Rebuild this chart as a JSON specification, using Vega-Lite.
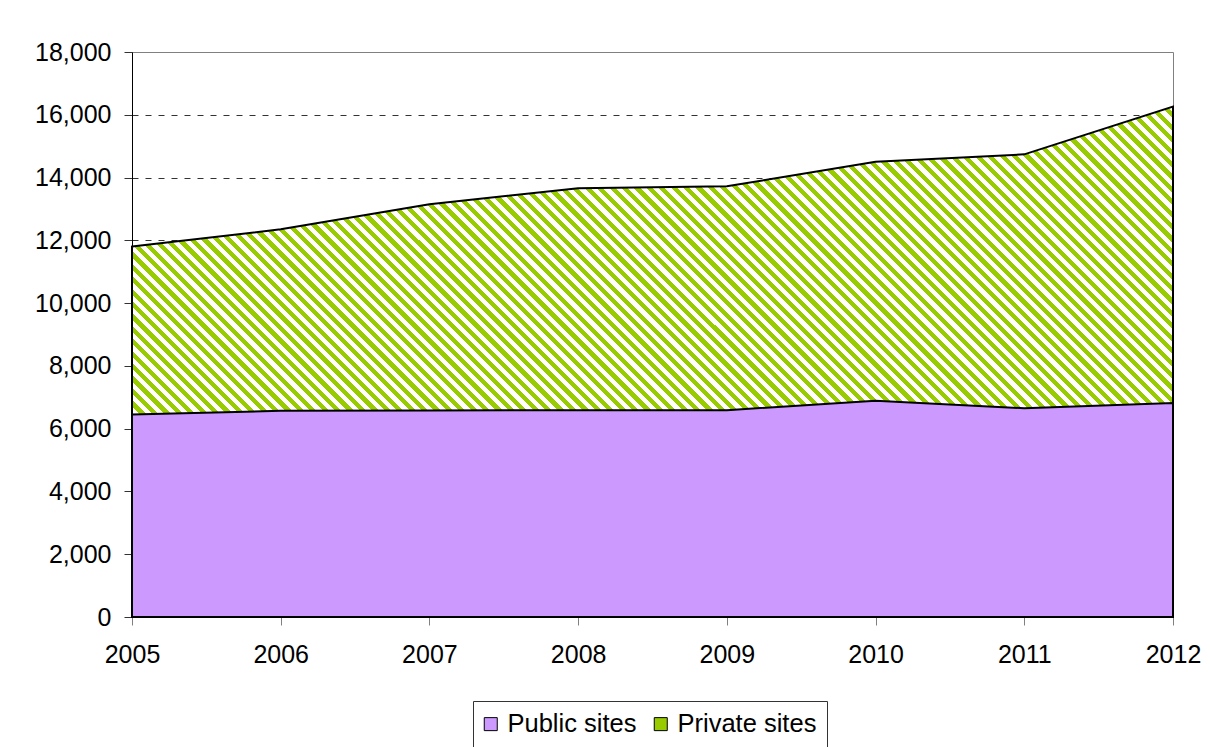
{"width":1041,"height":565,"autosize":{"type":"none"},"padding":{"left":132,"top":52,"right":37,"bottom":130},"background":"white",
"config":{"view":{"stroke":"#808080","strokeWidth":1},"font":"Liberation Sans","axis":{"labelFont":"Liberation Sans","labelColor":"#000","domainColor":"#000","domainWidth":1,"title":null}},
"data":{"values":[
{"year":2005,"series":"Public sites","value":6450},{"year":2005,"series":"Private sites","value":5350},
{"year":2006,"series":"Public sites","value":6570},{"year":2006,"series":"Private sites","value":5780},
{"year":2007,"series":"Public sites","value":6580},{"year":2007,"series":"Private sites","value":6570},
{"year":2008,"series":"Public sites","value":6590},{"year":2008,"series":"Private sites","value":7070},
{"year":2009,"series":"Public sites","value":6590},{"year":2009,"series":"Private sites","value":7130},
{"year":2010,"series":"Public sites","value":6890},{"year":2010,"series":"Private sites","value":7610},
{"year":2011,"series":"Public sites","value":6650},{"year":2011,"series":"Private sites","value":8090},
{"year":2012,"series":"Public sites","value":6820},{"year":2012,"series":"Private sites","value":9440}
]},
"transform":[{"stack":"value","groupby":["year"],"sort":[{"field":"series","order":"descending"}],"as":["v0","v1"]}],
"encoding":{
"x":{"field":"year","type":"quantitative","scale":{"domain":[2005,2012],"nice":false,"zero":false},"axis":{"values":[2005,2006,2007,2008,2009,2010,2011,2012],"format":"d","tickSize":8,"labelPadding":17,"tickColor":"#808080","grid":false,"labelFontSize":25,"labelFlush":false,"labelOverlap":false}},
"y":{"field":"v1","type":"quantitative","stack":null,"scale":{"domain":[0,18000],"nice":false},"axis":{"values":[0,2000,4000,6000,8000,10000,12000,14000,16000,18000],"format":",d","tickSize":8,"labelPadding":13,"tickColor":"#333","labelFontSize":25,"grid":true,"gridColor":"#333","gridDash":[6,7],"gridWidth":1,"gridOpacity":{"condition":{"test":"datum.value >= 18000","value":0},"value":1}}}
},
"layer":[
{"transform":[{"filter":"datum.series === 'Private sites'"}],
"mark":{"type":"area","stroke":"#000","strokeWidth":2,"fill":{"gradient":"linear","x1":0,"y1":1,"x2":1.2015,"y2":0.4109,"stops":[
{"offset":0,"color":"#9c0"},
{"offset":0.004,"color":"#9c0"},{"offset":0.004,"color":"#fff"},{"offset":0.008,"color":"#fff"},{"offset":0.008,"color":"#9c0"},{"offset":0.012,"color":"#9c0"},{"offset":0.012,"color":"#fff"},{"offset":0.016,"color":"#fff"},{"offset":0.016,"color":"#9c0"},{"offset":0.02,"color":"#9c0"},{"offset":0.02,"color":"#fff"},{"offset":0.024,"color":"#fff"},{"offset":0.024,"color":"#9c0"},{"offset":0.028,"color":"#9c0"},{"offset":0.028,"color":"#fff"},{"offset":0.032,"color":"#fff"},{"offset":0.032,"color":"#9c0"},{"offset":0.036,"color":"#9c0"},{"offset":0.036,"color":"#fff"},{"offset":0.04,"color":"#fff"},{"offset":0.04,"color":"#9c0"},{"offset":0.044,"color":"#9c0"},{"offset":0.044,"color":"#fff"},{"offset":0.048,"color":"#fff"},{"offset":0.048,"color":"#9c0"},{"offset":0.052,"color":"#9c0"},{"offset":0.052,"color":"#fff"},{"offset":0.056,"color":"#fff"},{"offset":0.056,"color":"#9c0"},{"offset":0.06,"color":"#9c0"},{"offset":0.06,"color":"#fff"},{"offset":0.064,"color":"#fff"},{"offset":0.064,"color":"#9c0"},{"offset":0.068,"color":"#9c0"},{"offset":0.068,"color":"#fff"},{"offset":0.072,"color":"#fff"},{"offset":0.072,"color":"#9c0"},{"offset":0.076,"color":"#9c0"},{"offset":0.076,"color":"#fff"},{"offset":0.08,"color":"#fff"},{"offset":0.08,"color":"#9c0"},{"offset":0.084,"color":"#9c0"},{"offset":0.084,"color":"#fff"},{"offset":0.088,"color":"#fff"},{"offset":0.088,"color":"#9c0"},{"offset":0.092,"color":"#9c0"},{"offset":0.092,"color":"#fff"},{"offset":0.096,"color":"#fff"},{"offset":0.096,"color":"#9c0"},{"offset":0.1,"color":"#9c0"},{"offset":0.1,"color":"#fff"},
{"offset":0.104,"color":"#fff"},{"offset":0.104,"color":"#9c0"},{"offset":0.108,"color":"#9c0"},{"offset":0.108,"color":"#fff"},{"offset":0.112,"color":"#fff"},{"offset":0.112,"color":"#9c0"},{"offset":0.116,"color":"#9c0"},{"offset":0.116,"color":"#fff"},{"offset":0.12,"color":"#fff"},{"offset":0.12,"color":"#9c0"},{"offset":0.124,"color":"#9c0"},{"offset":0.124,"color":"#fff"},{"offset":0.128,"color":"#fff"},{"offset":0.128,"color":"#9c0"},{"offset":0.132,"color":"#9c0"},{"offset":0.132,"color":"#fff"},{"offset":0.136,"color":"#fff"},{"offset":0.136,"color":"#9c0"},{"offset":0.14,"color":"#9c0"},{"offset":0.14,"color":"#fff"},{"offset":0.144,"color":"#fff"},{"offset":0.144,"color":"#9c0"},{"offset":0.148,"color":"#9c0"},{"offset":0.148,"color":"#fff"},{"offset":0.152,"color":"#fff"},{"offset":0.152,"color":"#9c0"},{"offset":0.156,"color":"#9c0"},{"offset":0.156,"color":"#fff"},{"offset":0.16,"color":"#fff"},{"offset":0.16,"color":"#9c0"},{"offset":0.164,"color":"#9c0"},{"offset":0.164,"color":"#fff"},{"offset":0.168,"color":"#fff"},{"offset":0.168,"color":"#9c0"},{"offset":0.172,"color":"#9c0"},{"offset":0.172,"color":"#fff"},{"offset":0.176,"color":"#fff"},{"offset":0.176,"color":"#9c0"},{"offset":0.18,"color":"#9c0"},{"offset":0.18,"color":"#fff"},{"offset":0.184,"color":"#fff"},{"offset":0.184,"color":"#9c0"},{"offset":0.188,"color":"#9c0"},{"offset":0.188,"color":"#fff"},{"offset":0.192,"color":"#fff"},{"offset":0.192,"color":"#9c0"},{"offset":0.196,"color":"#9c0"},{"offset":0.196,"color":"#fff"},{"offset":0.2,"color":"#fff"},{"offset":0.2,"color":"#9c0"},
{"offset":0.204,"color":"#9c0"},{"offset":0.204,"color":"#fff"},{"offset":0.208,"color":"#fff"},{"offset":0.208,"color":"#9c0"},{"offset":0.212,"color":"#9c0"},{"offset":0.212,"color":"#fff"},{"offset":0.216,"color":"#fff"},{"offset":0.216,"color":"#9c0"},{"offset":0.22,"color":"#9c0"},{"offset":0.22,"color":"#fff"},{"offset":0.224,"color":"#fff"},{"offset":0.224,"color":"#9c0"},{"offset":0.228,"color":"#9c0"},{"offset":0.228,"color":"#fff"},{"offset":0.232,"color":"#fff"},{"offset":0.232,"color":"#9c0"},{"offset":0.236,"color":"#9c0"},{"offset":0.236,"color":"#fff"},{"offset":0.24,"color":"#fff"},{"offset":0.24,"color":"#9c0"},{"offset":0.244,"color":"#9c0"},{"offset":0.244,"color":"#fff"},{"offset":0.248,"color":"#fff"},{"offset":0.248,"color":"#9c0"},{"offset":0.252,"color":"#9c0"},{"offset":0.252,"color":"#fff"},{"offset":0.256,"color":"#fff"},{"offset":0.256,"color":"#9c0"},{"offset":0.26,"color":"#9c0"},{"offset":0.26,"color":"#fff"},{"offset":0.264,"color":"#fff"},{"offset":0.264,"color":"#9c0"},{"offset":0.268,"color":"#9c0"},{"offset":0.268,"color":"#fff"},{"offset":0.272,"color":"#fff"},{"offset":0.272,"color":"#9c0"},{"offset":0.276,"color":"#9c0"},{"offset":0.276,"color":"#fff"},{"offset":0.28,"color":"#fff"},{"offset":0.28,"color":"#9c0"},{"offset":0.284,"color":"#9c0"},{"offset":0.284,"color":"#fff"},{"offset":0.288,"color":"#fff"},{"offset":0.288,"color":"#9c0"},{"offset":0.292,"color":"#9c0"},{"offset":0.292,"color":"#fff"},{"offset":0.296,"color":"#fff"},{"offset":0.296,"color":"#9c0"},{"offset":0.3,"color":"#9c0"},{"offset":0.3,"color":"#fff"},
{"offset":0.304,"color":"#fff"},{"offset":0.304,"color":"#9c0"},{"offset":0.308,"color":"#9c0"},{"offset":0.308,"color":"#fff"},{"offset":0.312,"color":"#fff"},{"offset":0.312,"color":"#9c0"},{"offset":0.316,"color":"#9c0"},{"offset":0.316,"color":"#fff"},{"offset":0.32,"color":"#fff"},{"offset":0.32,"color":"#9c0"},{"offset":0.324,"color":"#9c0"},{"offset":0.324,"color":"#fff"},{"offset":0.328,"color":"#fff"},{"offset":0.328,"color":"#9c0"},{"offset":0.332,"color":"#9c0"},{"offset":0.332,"color":"#fff"},{"offset":0.336,"color":"#fff"},{"offset":0.336,"color":"#9c0"},{"offset":0.34,"color":"#9c0"},{"offset":0.34,"color":"#fff"},{"offset":0.344,"color":"#fff"},{"offset":0.344,"color":"#9c0"},{"offset":0.348,"color":"#9c0"},{"offset":0.348,"color":"#fff"},{"offset":0.352,"color":"#fff"},{"offset":0.352,"color":"#9c0"},{"offset":0.356,"color":"#9c0"},{"offset":0.356,"color":"#fff"},{"offset":0.36,"color":"#fff"},{"offset":0.36,"color":"#9c0"},{"offset":0.364,"color":"#9c0"},{"offset":0.364,"color":"#fff"},{"offset":0.368,"color":"#fff"},{"offset":0.368,"color":"#9c0"},{"offset":0.372,"color":"#9c0"},{"offset":0.372,"color":"#fff"},{"offset":0.376,"color":"#fff"},{"offset":0.376,"color":"#9c0"},{"offset":0.38,"color":"#9c0"},{"offset":0.38,"color":"#fff"},{"offset":0.384,"color":"#fff"},{"offset":0.384,"color":"#9c0"},{"offset":0.388,"color":"#9c0"},{"offset":0.388,"color":"#fff"},{"offset":0.392,"color":"#fff"},{"offset":0.392,"color":"#9c0"},{"offset":0.396,"color":"#9c0"},{"offset":0.396,"color":"#fff"},{"offset":0.4,"color":"#fff"},{"offset":0.4,"color":"#9c0"},
{"offset":0.404,"color":"#9c0"},{"offset":0.404,"color":"#fff"},{"offset":0.408,"color":"#fff"},{"offset":0.408,"color":"#9c0"},{"offset":0.412,"color":"#9c0"},{"offset":0.412,"color":"#fff"},{"offset":0.416,"color":"#fff"},{"offset":0.416,"color":"#9c0"},{"offset":0.42,"color":"#9c0"},{"offset":0.42,"color":"#fff"},{"offset":0.424,"color":"#fff"},{"offset":0.424,"color":"#9c0"},{"offset":0.428,"color":"#9c0"},{"offset":0.428,"color":"#fff"},{"offset":0.432,"color":"#fff"},{"offset":0.432,"color":"#9c0"},{"offset":0.436,"color":"#9c0"},{"offset":0.436,"color":"#fff"},{"offset":0.44,"color":"#fff"},{"offset":0.44,"color":"#9c0"},{"offset":0.444,"color":"#9c0"},{"offset":0.444,"color":"#fff"},{"offset":0.448,"color":"#fff"},{"offset":0.448,"color":"#9c0"},{"offset":0.452,"color":"#9c0"},{"offset":0.452,"color":"#fff"},{"offset":0.456,"color":"#fff"},{"offset":0.456,"color":"#9c0"},{"offset":0.46,"color":"#9c0"},{"offset":0.46,"color":"#fff"},{"offset":0.464,"color":"#fff"},{"offset":0.464,"color":"#9c0"},{"offset":0.468,"color":"#9c0"},{"offset":0.468,"color":"#fff"},{"offset":0.472,"color":"#fff"},{"offset":0.472,"color":"#9c0"},{"offset":0.476,"color":"#9c0"},{"offset":0.476,"color":"#fff"},{"offset":0.48,"color":"#fff"},{"offset":0.48,"color":"#9c0"},{"offset":0.484,"color":"#9c0"},{"offset":0.484,"color":"#fff"},{"offset":0.488,"color":"#fff"},{"offset":0.488,"color":"#9c0"},{"offset":0.492,"color":"#9c0"},{"offset":0.492,"color":"#fff"},{"offset":0.496,"color":"#fff"},{"offset":0.496,"color":"#9c0"},{"offset":0.5,"color":"#9c0"},{"offset":0.5,"color":"#fff"},
{"offset":0.504,"color":"#fff"},{"offset":0.504,"color":"#9c0"},{"offset":0.508,"color":"#9c0"},{"offset":0.508,"color":"#fff"},{"offset":0.512,"color":"#fff"},{"offset":0.512,"color":"#9c0"},{"offset":0.516,"color":"#9c0"},{"offset":0.516,"color":"#fff"},{"offset":0.52,"color":"#fff"},{"offset":0.52,"color":"#9c0"},{"offset":0.524,"color":"#9c0"},{"offset":0.524,"color":"#fff"},{"offset":0.528,"color":"#fff"},{"offset":0.528,"color":"#9c0"},{"offset":0.532,"color":"#9c0"},{"offset":0.532,"color":"#fff"},{"offset":0.536,"color":"#fff"},{"offset":0.536,"color":"#9c0"},{"offset":0.54,"color":"#9c0"},{"offset":0.54,"color":"#fff"},{"offset":0.544,"color":"#fff"},{"offset":0.544,"color":"#9c0"},{"offset":0.548,"color":"#9c0"},{"offset":0.548,"color":"#fff"},{"offset":0.552,"color":"#fff"},{"offset":0.552,"color":"#9c0"},{"offset":0.556,"color":"#9c0"},{"offset":0.556,"color":"#fff"},{"offset":0.56,"color":"#fff"},{"offset":0.56,"color":"#9c0"},{"offset":0.564,"color":"#9c0"},{"offset":0.564,"color":"#fff"},{"offset":0.568,"color":"#fff"},{"offset":0.568,"color":"#9c0"},{"offset":0.572,"color":"#9c0"},{"offset":0.572,"color":"#fff"},{"offset":0.576,"color":"#fff"},{"offset":0.576,"color":"#9c0"},{"offset":0.58,"color":"#9c0"},{"offset":0.58,"color":"#fff"},{"offset":0.584,"color":"#fff"},{"offset":0.584,"color":"#9c0"},{"offset":0.588,"color":"#9c0"},{"offset":0.588,"color":"#fff"},{"offset":0.592,"color":"#fff"},{"offset":0.592,"color":"#9c0"},{"offset":0.596,"color":"#9c0"},{"offset":0.596,"color":"#fff"},{"offset":0.6,"color":"#fff"},{"offset":0.6,"color":"#9c0"},
{"offset":0.604,"color":"#9c0"},{"offset":0.604,"color":"#fff"},{"offset":0.608,"color":"#fff"},{"offset":0.608,"color":"#9c0"},{"offset":0.612,"color":"#9c0"},{"offset":0.612,"color":"#fff"},{"offset":0.616,"color":"#fff"},{"offset":0.616,"color":"#9c0"},{"offset":0.62,"color":"#9c0"},{"offset":0.62,"color":"#fff"},{"offset":0.624,"color":"#fff"},{"offset":0.624,"color":"#9c0"},{"offset":0.628,"color":"#9c0"},{"offset":0.628,"color":"#fff"},{"offset":0.632,"color":"#fff"},{"offset":0.632,"color":"#9c0"},{"offset":0.636,"color":"#9c0"},{"offset":0.636,"color":"#fff"},{"offset":0.64,"color":"#fff"},{"offset":0.64,"color":"#9c0"},{"offset":0.644,"color":"#9c0"},{"offset":0.644,"color":"#fff"},{"offset":0.648,"color":"#fff"},{"offset":0.648,"color":"#9c0"},{"offset":0.652,"color":"#9c0"},{"offset":0.652,"color":"#fff"},{"offset":0.656,"color":"#fff"},{"offset":0.656,"color":"#9c0"},{"offset":0.66,"color":"#9c0"},{"offset":0.66,"color":"#fff"},{"offset":0.664,"color":"#fff"},{"offset":0.664,"color":"#9c0"},{"offset":0.668,"color":"#9c0"},{"offset":0.668,"color":"#fff"},{"offset":0.672,"color":"#fff"},{"offset":0.672,"color":"#9c0"},{"offset":0.676,"color":"#9c0"},{"offset":0.676,"color":"#fff"},{"offset":0.68,"color":"#fff"},{"offset":0.68,"color":"#9c0"},{"offset":0.684,"color":"#9c0"},{"offset":0.684,"color":"#fff"},{"offset":0.688,"color":"#fff"},{"offset":0.688,"color":"#9c0"},{"offset":0.692,"color":"#9c0"},{"offset":0.692,"color":"#fff"},{"offset":0.696,"color":"#fff"},{"offset":0.696,"color":"#9c0"},{"offset":0.7,"color":"#9c0"},{"offset":0.7,"color":"#fff"},
{"offset":0.704,"color":"#fff"},{"offset":0.704,"color":"#9c0"},{"offset":0.708,"color":"#9c0"},{"offset":0.708,"color":"#fff"},{"offset":0.712,"color":"#fff"},{"offset":0.712,"color":"#9c0"},{"offset":0.716,"color":"#9c0"},{"offset":0.716,"color":"#fff"},{"offset":0.72,"color":"#fff"},{"offset":0.72,"color":"#9c0"},{"offset":0.724,"color":"#9c0"},{"offset":0.724,"color":"#fff"},{"offset":0.728,"color":"#fff"},{"offset":0.728,"color":"#9c0"},{"offset":0.732,"color":"#9c0"},{"offset":0.732,"color":"#fff"},{"offset":0.736,"color":"#fff"},{"offset":0.736,"color":"#9c0"},{"offset":0.74,"color":"#9c0"},{"offset":0.74,"color":"#fff"},{"offset":0.744,"color":"#fff"},{"offset":0.744,"color":"#9c0"},{"offset":0.748,"color":"#9c0"},{"offset":0.748,"color":"#fff"},{"offset":0.752,"color":"#fff"},{"offset":0.752,"color":"#9c0"},{"offset":0.756,"color":"#9c0"},{"offset":0.756,"color":"#fff"},{"offset":0.76,"color":"#fff"},{"offset":0.76,"color":"#9c0"},{"offset":0.764,"color":"#9c0"},{"offset":0.764,"color":"#fff"},{"offset":0.768,"color":"#fff"},{"offset":0.768,"color":"#9c0"},{"offset":0.772,"color":"#9c0"},{"offset":0.772,"color":"#fff"},{"offset":0.776,"color":"#fff"},{"offset":0.776,"color":"#9c0"},{"offset":0.78,"color":"#9c0"},{"offset":0.78,"color":"#fff"},{"offset":0.784,"color":"#fff"},{"offset":0.784,"color":"#9c0"},{"offset":0.788,"color":"#9c0"},{"offset":0.788,"color":"#fff"},{"offset":0.792,"color":"#fff"},{"offset":0.792,"color":"#9c0"},{"offset":0.796,"color":"#9c0"},{"offset":0.796,"color":"#fff"},{"offset":0.8,"color":"#fff"},{"offset":0.8,"color":"#9c0"},
{"offset":0.804,"color":"#9c0"},{"offset":0.804,"color":"#fff"},{"offset":0.808,"color":"#fff"},{"offset":0.808,"color":"#9c0"},{"offset":0.812,"color":"#9c0"},{"offset":0.812,"color":"#fff"},{"offset":0.816,"color":"#fff"},{"offset":0.816,"color":"#9c0"},{"offset":0.82,"color":"#9c0"},{"offset":0.82,"color":"#fff"},{"offset":0.824,"color":"#fff"},{"offset":0.824,"color":"#9c0"},{"offset":0.828,"color":"#9c0"},{"offset":0.828,"color":"#fff"},{"offset":0.832,"color":"#fff"},{"offset":0.832,"color":"#9c0"},{"offset":0.836,"color":"#9c0"},{"offset":0.836,"color":"#fff"},{"offset":0.84,"color":"#fff"},{"offset":0.84,"color":"#9c0"},{"offset":0.844,"color":"#9c0"},{"offset":0.844,"color":"#fff"},{"offset":0.848,"color":"#fff"},{"offset":0.848,"color":"#9c0"},{"offset":0.852,"color":"#9c0"},{"offset":0.852,"color":"#fff"},{"offset":0.856,"color":"#fff"},{"offset":0.856,"color":"#9c0"},{"offset":0.86,"color":"#9c0"},{"offset":0.86,"color":"#fff"},{"offset":0.864,"color":"#fff"},{"offset":0.864,"color":"#9c0"},{"offset":0.868,"color":"#9c0"},{"offset":0.868,"color":"#fff"},{"offset":0.872,"color":"#fff"},{"offset":0.872,"color":"#9c0"},{"offset":0.876,"color":"#9c0"},{"offset":0.876,"color":"#fff"},{"offset":0.88,"color":"#fff"},{"offset":0.88,"color":"#9c0"},{"offset":0.884,"color":"#9c0"},{"offset":0.884,"color":"#fff"},{"offset":0.888,"color":"#fff"},{"offset":0.888,"color":"#9c0"},{"offset":0.892,"color":"#9c0"},{"offset":0.892,"color":"#fff"},{"offset":0.896,"color":"#fff"},{"offset":0.896,"color":"#9c0"},{"offset":0.9,"color":"#9c0"},{"offset":0.9,"color":"#fff"},
{"offset":0.904,"color":"#fff"},{"offset":0.904,"color":"#9c0"},{"offset":0.908,"color":"#9c0"},{"offset":0.908,"color":"#fff"},{"offset":0.912,"color":"#fff"},{"offset":0.912,"color":"#9c0"},{"offset":0.916,"color":"#9c0"},{"offset":0.916,"color":"#fff"},{"offset":0.92,"color":"#fff"},{"offset":0.92,"color":"#9c0"},{"offset":0.924,"color":"#9c0"},{"offset":0.924,"color":"#fff"},{"offset":0.928,"color":"#fff"},{"offset":0.928,"color":"#9c0"},{"offset":0.932,"color":"#9c0"},{"offset":0.932,"color":"#fff"},{"offset":0.936,"color":"#fff"},{"offset":0.936,"color":"#9c0"},{"offset":0.94,"color":"#9c0"},{"offset":0.94,"color":"#fff"},{"offset":0.944,"color":"#fff"},{"offset":0.944,"color":"#9c0"},{"offset":0.948,"color":"#9c0"},{"offset":0.948,"color":"#fff"},{"offset":0.952,"color":"#fff"},{"offset":0.952,"color":"#9c0"},{"offset":0.956,"color":"#9c0"},{"offset":0.956,"color":"#fff"},{"offset":0.96,"color":"#fff"},{"offset":0.96,"color":"#9c0"},{"offset":0.964,"color":"#9c0"},{"offset":0.964,"color":"#fff"},{"offset":0.968,"color":"#fff"},{"offset":0.968,"color":"#9c0"},{"offset":0.972,"color":"#9c0"},{"offset":0.972,"color":"#fff"},{"offset":0.976,"color":"#fff"},{"offset":0.976,"color":"#9c0"},{"offset":0.98,"color":"#9c0"},{"offset":0.98,"color":"#fff"},{"offset":0.984,"color":"#fff"},{"offset":0.984,"color":"#9c0"},{"offset":0.988,"color":"#9c0"},{"offset":0.988,"color":"#fff"},{"offset":0.992,"color":"#fff"},{"offset":0.992,"color":"#9c0"},{"offset":0.996,"color":"#9c0"},{"offset":0.996,"color":"#fff"},
{"offset":1,"color":"#fff"}
]}}},
{"transform":[{"filter":"datum.series === 'Public sites'"}],
"mark":{"type":"area","stroke":"#000","strokeWidth":2,"fillOpacity":1},
"encoding":{"fill":{"field":"series","type":"nominal","scale":{"domain":["Public sites","Private sites"],"range":["#cc99ff","#99cc00"]},
"legend":{"orient":"none","legendX":341,"legendY":649,"direction":"horizontal","title":null,"symbolType":"square","symbolSize":169,"symbolStrokeColor":"#000","symbolStrokeWidth":1,"symbolOpacity":1,"symbolOffset":-5,"labelFont":"Liberation Sans","labelFontSize":25.5,"labelColor":"#000","labelOffset":4,"columnPadding":15,"padding":10,"strokeColor":"#333","fillColor":"#fff"}}}}
]}
